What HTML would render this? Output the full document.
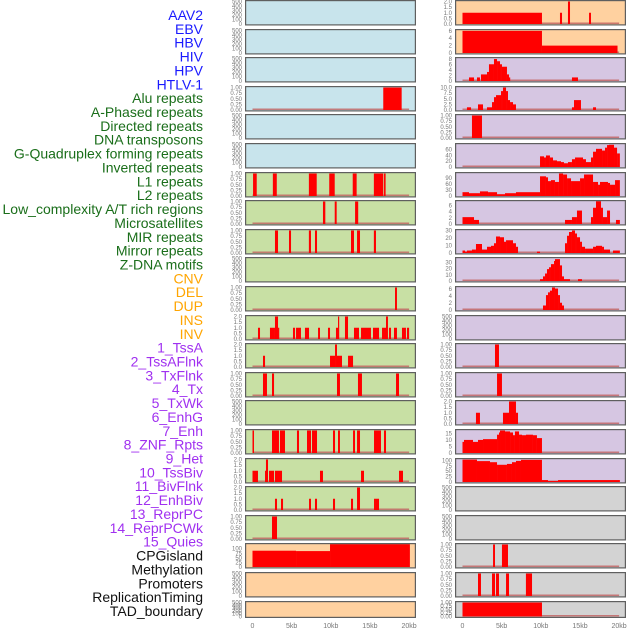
<!DOCTYPE html>
<html><head><meta charset="utf-8">
<style>
html,body{margin:0;padding:0;background:#fff;}
svg{display:block;font-family:"Liberation Sans",sans-serif;}
</style></head>
<body>
<svg id="chart" width="630" height="630" viewBox="0 0 630 630" xmlns="http://www.w3.org/2000/svg"></svg>
<script>
// ---- labels ----
const trackLabels = ["AAV2","EBV","HBV","HIV","HPV","HTLV-1","Alu repeats","A-Phased repeats","Directed repeats","DNA transposons","G-Quadruplex forming repeats","Inverted repeats","L1 repeats","L2 repeats","Low_complexity A/T rich regions","Microsatellites","MIR repeats","Mirror repeats","Z-DNA motifs","CNV","DEL","DUP","INS","INV","1_TssA","2_TssAFlnk","3_TxFlnk","4_Tx","5_TxWk","6_EnhG","7_Enh","8_ZNF_Rpts","9_Het","10_TssBiv","11_BivFlnk","12_EnhBiv","13_ReprPC","14_ReprPCWk","15_Quies","CPGisland","Methylation","Promoters","ReplicationTiming","TAD_boundary"];
const labelColors = ["#1a1aff","#1a1aff","#1a1aff","#1a1aff","#1a1aff","#1a1aff","#1a6e1a","#1a6e1a","#1a6e1a","#1a6e1a","#1a6e1a","#1a6e1a","#1a6e1a","#1a6e1a","#1a6e1a","#1a6e1a","#1a6e1a","#1a6e1a","#1a6e1a","#ffa500","#ffa500","#ffa500","#ffa500","#ffa500","#a030f0","#a030f0","#a030f0","#a030f0","#a030f0","#a030f0","#a030f0","#a030f0","#a030f0","#a030f0","#a030f0","#a030f0","#a030f0","#a030f0","#a030f0","#111","#111","#111","#111","#111"];
// ---- x axis ----
const xTickKb = [0,5,10,15,20];
const xTickLabels = ["0","5kb","10kb","15kb","20kb"];
// ---- left column panels (rows 0..21) ----
const leftBg = ["blue","blue","blue","blue","blue","blue","green","green","green","green","green","green","green","green","green","green","green","green","green","orange","orange","orange"];
const leftTop = [500,500,500,1,500,500,1,1,1,500,1,2,2,1,500,1,2,2,1,123,500,500];
const leftTicks = [
[0,100,200,300,400,500],[0,100,200,300,400,500],[0,100,200,300,400,500],[0,0.25,0.5,0.75,1],[0,100,200,300,400,500],[0,100,200,300,400,500],
[0,0.25,0.5,0.75,1],[0,0.25,0.5,0.75,1],[0,0.25,0.5,0.75,1],[0,100,200,300,400,500],[0,0.25,0.5,0.75,1],[0,0.5,1,1.5,2],
[0,0.5,1,1.5,2],[0,0.25,0.5,0.75,1],[0,100,200,300,400,500],[0,0.25,0.5,0.75,1],[0,0.5,1,1.5,2],[0,0.5,1,1.5,2],[0,0.25,0.5,0.75,1],
[0,25,50,75,100],[0,100,200,300,400,500],[0,100,200,300,400,500]];
const leftSegs = [
[],[],[],
[[16.7,19.05,1]],
[],[],
[[0.07,0.54,1],[2.6,3.1,1],[7.2,8.2,1],[9.8,10.5,1],[12.8,13.3,1],[15.5,16.7,1],[16.8,17.0,1]],
[[9.0,9.3,1],[10.5,10.75,1],[13.1,13.5,1]],
[[2.87,3.26,1],[4.66,4.92,1],[7.2,7.47,1],[7.98,8.24,1],[12.58,12.96,1],[13.35,13.73,1],[15.5,15.77,1]],
[],
[[18.2,18.45,1]],
[[0.7,0.96,1],[2.23,2.87,1],[2.87,3.26,2],[3.26,3.38,1],[5.17,5.43,1],[5.56,6.19,1],[6.7,7.22,1],[8.37,8.62,1],[9.64,9.9,1],[10.66,10.92,1],[10.92,11.05,2],[11.81,12.2,2],[12.96,13.6,1],[13.86,15.13,1],[15.39,16.16,1],[16.54,17.05,1],[17.05,17.3,2],[17.43,17.69,1],[18.07,18.45,1],[19.09,19.6,1],[19.73,20.0,1]],
[[1.34,1.6,1],[9.9,10.54,1],[10.54,10.79,2],[10.79,11.43,1],[12.2,12.84,1]],
[[1.34,1.85,1],[2.49,2.75,1],[10.79,11.17,1],[13.47,13.98,1],[18.33,18.71,1]],
[],
[[0,0.19,1],[2.49,3.38,1],[3.51,4.15,1],[5.68,5.94,1],[6.96,7.47,1],[7.6,8.24,1],[10.28,10.54,1],[10.92,11.17,1],[12.84,13.09,1],[13.35,13.73,1],[15.52,15.9,1],[15.9,16.41,1],[16.79,17.05,1]],
[[0,0.7,1],[1.6,1.72,1],[1.72,1.98,2],[2.11,2.75,1],[2.87,3.77,1],[8.62,9.0,1],[13.86,14.24,1],[18.71,19.22,1]],
[[2.87,3.13,1],[3.64,3.9,1],[7.22,7.47,1],[7.98,8.24,1],[10.28,10.54,1],[12.58,12.84,1],[13.35,13.73,2],[15.52,15.77,1],[15.77,16.16,1]],
[[2.49,3.13,1]],
[[0,5.56,89],[5.56,9.9,87],[9.9,20.1,125]],
[],[]];
// ---- right column panels (rows 0..21) ----
const rightBg = ["orange","orange","purple","purple","purple","purple","purple","purple","purple","purple","purple","purple","purple","purple","purple","purple","purple","gray","gray","gray","gray","gray"];
const rightTop = [2,6.1,8.2,10,1,78,112,7.2,30,36,6.5,500,1,1,2,17.2,104.5,500,500,1,1,1];
const rightTicks = [
[0,0.5,1,1.5,2],[0,2,4,6],[0,2,4,6,8],[0,2.5,5,7.5,10],[0,0.25,0.5,0.75,1],[0,20,40,60],[0,30,60,90],[0,2,4,6],[0,10,20,30],[0,10,20,30],[0,2,4,6],
[0,100,200,300,400,500],[0,0.25,0.5,0.75,1],[0,0.25,0.5,0.75,1],[0,0.5,1,1.5,2],[0,5,10,15],[0,25,50,75,100],
[0,100,200,300,400,500],[0,100,200,300,400,500],[0,0.25,0.5,0.75,1],[0,0.25,0.5,0.75,1],[0,0.25,0.5,0.75,1]];
const rightSegs = [
[[0,10.15,1],[12.45,12.71,1],[13.47,13.73,2],[16.16,16.41,1]],
[[0,10.15,6],[10.15,19.8,2]],
[[0.83,1.47,1.3],[1.85,2.23,1.3],[2.36,3.13,2.4],[3.13,3.38,3.3],[3.38,4.02,6.1],[4.02,4.41,8],[4.41,4.79,7.2],[4.79,5.04,6.1],[5.04,5.68,5.2],[5.68,5.94,2.4],[5.94,6.07,1.3],[13.98,14.75,1.3]],
[[0.57,1.09,1.2],[1.98,2.62,2.5],[3.13,3.77,1.2],[3.77,4.02,3.5],[4.02,4.28,5.7],[4.28,4.92,6.6],[4.92,5.17,8.4],[5.17,5.56,10],[5.56,5.81,8.4],[5.81,6.07,4.4],[6.07,6.45,3.5],[6.45,6.83,2.5],[13.98,14.24,1.2],[14.24,15.13,4.4],[16.67,17.05,1.2]],
[[1.21,2.49,1]],
[[9.9,10.41,37],[10.41,10.66,33],[10.66,11.17,40],[11.17,11.56,33],[11.56,12.07,23],[12.07,12.58,20],[12.58,12.96,17],[12.96,13.47,13],[13.47,13.98,17],[13.98,14.37,27],[14.37,15.39,33],[15.39,15.77,27],[15.77,16.41,17],[16.41,16.67,33],[16.67,17.05,53],[17.05,17.82,63],[17.82,18.2,57],[18.2,18.46,67],[18.46,18.71,76],[18.71,19.35,77],[19.35,19.74,67],[19.74,20.1,47]],
[[0,0.83,19],[0.83,2.23,14],[2.23,3.26,23],[3.26,4.41,19],[4.41,5.43,9],[5.43,6.83,14],[6.83,9.9,19],[9.9,10.66,98],[10.66,10.92,93],[10.92,11.3,74],[11.3,11.81,79],[11.81,12.32,70],[12.32,12.84,112],[12.84,13.35,107],[13.35,13.86,88],[13.86,15.01,74],[15.01,15.52,88],[15.52,16.67,107],[16.67,17.31,70],[17.31,17.56,56],[17.56,18.58,70],[18.58,18.84,65],[18.84,19.48,56],[19.48,20.1,79]],
[[0,1.47,2.2],[1.47,2.11,1.3],[13.09,13.98,1.3],[13.98,14.62,2.2],[14.62,15.26,4.3],[16.41,16.67,2.2],[16.67,17.05,5.2],[17.05,17.69,7.3],[17.69,17.94,5.2],[17.94,18.46,2.2],[18.46,18.84,4.3],[19.6,20.1,1.3]],
[[0,0.32,3.3],[0.32,0.57,2],[0.57,1.21,3.3],[1.21,1.72,4.6],[1.72,2.49,12],[2.49,3.13,4.6],[3.13,3.64,8.3],[3.64,4.02,9.6],[4.02,4.28,13],[4.28,4.79,22],[4.79,5.3,21],[5.3,5.56,15],[5.56,6.45,17],[6.45,6.83,13],[6.83,7.09,8.3],[9.51,9.9,2],[13.09,13.35,13],[13.35,13.6,23],[13.6,13.98,28],[13.98,14.37,30],[14.37,14.62,26],[14.62,15.01,21],[15.01,15.26,15],[15.26,15.65,8.3],[15.65,16.67,5.8],[16.67,17.05,8.3],[17.05,17.82,9.6],[17.82,18.07,8.3],[18.07,18.84,4.6],[19.22,20.1,3.3]],
[[9.9,10.28,3],[10.28,10.54,7.4],[10.54,10.79,12],[10.79,11.05,19],[11.05,11.3,22],[11.3,11.69,27],[11.69,11.81,32],[11.81,12.45,35],[12.45,12.71,25],[12.71,12.96,7.4],[12.96,13.73,3],[14.75,15.26,3]],
[[10.28,10.66,1.3],[10.66,10.92,4.3],[10.92,11.17,5.1],[11.17,11.43,5.6],[11.43,11.81,6.5],[11.81,12.2,6.2],[12.2,12.45,4.3],[12.45,12.71,2.1],[12.71,12.96,1.3]],
[],
[[4.15,4.66,1]],
[[4.41,5.04,1]],
[[1.72,2.23,1],[5.17,5.94,1],[5.94,6.83,2],[6.83,7.09,1]],
[[0,0.19,8.5],[0.19,1.34,10],[1.34,1.98,8.5],[1.98,2.62,10],[2.62,4.41,10.6],[4.41,4.66,14],[4.66,4.79,15.7],[4.79,5.43,17.2],[5.43,6.07,16.5],[6.07,6.45,15.7],[6.45,6.7,13.6],[6.7,7.22,16.5],[7.22,7.6,14],[7.6,8.11,13.6],[8.11,9.0,14],[9.0,9.51,13.6],[9.51,10.15,11.4]],
[[0,1.85,104],[1.85,3.51,97],[3.51,4.41,92],[4.41,5.68,80],[5.68,6.32,84],[6.32,6.83,92],[6.83,7.47,98],[7.47,10.15,103],[10.15,10.92,9],[10.92,12.2,4.5],[12.2,20.1,9]],
[],[],
[[3.9,4.15,1],[5.04,5.81,1]],
[[1.98,2.36,1],[3.77,4.15,1],[4.28,4.66,1],[5.56,5.94,1],[8.1,8.88,1]],
[[0,10.15,1]]];

const bgColors = {blue:"#c8e4ec",green:"#c8e0a4",orange:"#ffd1a0",purple:"#d6c6e2",gray:"#d3d3d3"};
const NS = "http://www.w3.org/2000/svg";
const svg = document.getElementById("chart");
function mk(tag, attrs, parent){
  const e = document.createElementNS(NS, tag);
  for (const k in attrs) e.setAttribute(k, attrs[k]);
  (parent||svg).appendChild(e);
  return e;
}
function xScale(col, kb){ return 252.5 + col*210 + kb*7.83; }
function rowTop(i){ return Math.round(i*28.6); }
function rowH(i){ return i===21 ? 17 : 25.5; }
function fmt(t, ticks){
  const mx = ticks[ticks.length-1];
  if (mx===1) return t.toFixed(2);
  if (ticks.some(v=>v%1!==0) || mx===2) return t.toFixed(1);
  return String(t);
}

// labels
trackLabels.forEach((lab,i)=>{
  const t = mk("text",{x:203,y:(15+i*13.86+5).toFixed(1),"text-anchor":"end","font-size":"14",fill:labelColors[i]});
  t.textContent = lab;
  
  
});

function drawPanel(col, r, bg, top, ticks, segs){
  const x0 = 245 + col*210, w = 171, y0 = rowTop(r), h = rowH(r);
  const g = mk("g",{});
  
  
  mk("rect",{x:x0,y:y0,width:w,height:h,fill:bgColors[bg]},g);
  const pTop = y0+1.5, pBot = y0+h-1.5, pH = pBot-pTop;
  const yS = v => pBot - Math.min(v/top,1.02)*pH;
  // ticks
  ticks.forEach(t=>{
    const tt = mk("text",{x:x0-3,y:(yS(t)+2).toFixed(1),"text-anchor":"end","font-size":"6",fill:"#777"},g);
    tt.textContent = fmt(t,ticks);
    
    
  });
  if (segs.length){
    const bl = mk("rect",{x:xScale(col,0),y:pBot-1.5,width:xScale(col,20)-xScale(col,0),height:1.5,fill:"#c06060","fill-opacity":"0.8"},g);
    
    
  }
  segs.forEach(s=>{
    const xa = xScale(col,s[0]), xb = xScale(col,s[1]);
    const yv = Math.max(yS(s[2]), y0+1);
    const b = mk("rect",{x:xa.toFixed(2),y:yv.toFixed(2),width:Math.max(xb-xa,1.2).toFixed(2),height:(pBot-yv).toFixed(2),fill:"#ff0000"},g);
    
    
  });
  mk("rect",{x:x0+0.6,y:y0+0.6,width:w-1.2,height:h-1.2,fill:"none",stroke:"#5f5f5f","stroke-width":"1.2"},g);
}
for (let r=0;r<22;r++){
  drawPanel(0, r, leftBg[r], leftTop[r], leftTicks[r], leftSegs[r]);
  drawPanel(1, r, rightBg[r], rightTop[r], rightTicks[r], rightSegs[r]);
}
// x axes
[0,1].forEach(col=>{
  xTickKb.forEach((kb,i)=>{
    const t = mk("text",{x:xScale(col,kb).toFixed(1),y:628,"text-anchor":"middle","font-size":"7",fill:"#777"});
    t.textContent = xTickLabels[i];
    
    
  });
});
</script>
</body></html>
